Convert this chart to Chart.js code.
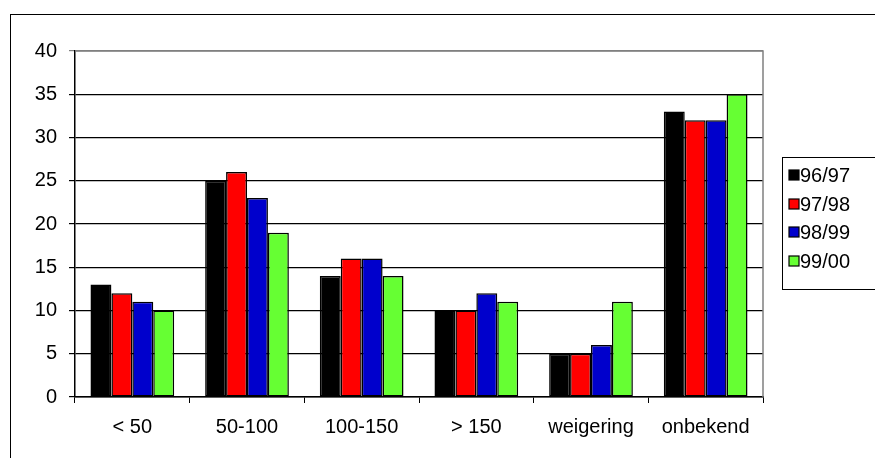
<!DOCTYPE html>
<html>
<head>
<meta charset="utf-8">
<script src="https://cdn.jsdelivr.net/npm/chart.js@4"></script>
<style>
  body { margin: 0; background: #fff; }
  #wrap { position: relative; width: 875px; height: 458px; }
</style>
</head>
<body>
<div id="wrap"><canvas id="canvas" width="875" height="458"></canvas></div>
<script>
const categories = ['< 50', '50-100', '100-150', '> 150', 'weigering', 'onbekend'];
const seriesNames = ['96/97', '97/98', '98/99', '99/00'];
const v9697 = [13, 25, 14, 10, 5, 33];
const v9798 = [12, 26, 16, 10, 5, 32];
const v9899 = [11, 23, 16, 12, 6, 32];
const v9900 = [10, 19, 14, 11, 11, 35];
const colors = ['#000000', '#ff0000', '#0000cc', '#66ff33'];

const FONT = "'Liberation Sans', Arial, sans-serif";

// outer frame, gray plot border and the boxed legend
const frame = {
  id: 'frame',
  beforeDraw(chart) {
    const c = chart.ctx;
    c.save();
    c.fillStyle = '#fff';
    c.fillRect(0, 0, chart.width, chart.height);
    c.strokeStyle = '#000';
    c.lineWidth = 1;
    c.strokeRect(10.5, 14.5, 900, 500);
    c.restore();
  },
  beforeDatasetsDraw(chart) {
    const a = chart.chartArea;
    const c = chart.ctx;
    c.save();
    c.strokeStyle = '#808080';
    c.lineWidth = 1.5;
    c.beginPath();
    c.moveTo(a.left, a.top);
    c.lineTo(a.right, a.top);
    c.lineTo(a.right, a.bottom);
    c.stroke();
    c.restore();
  },
  afterDraw(chart) {
    const c = chart.ctx;
    c.save();
    c.strokeStyle = '#000';
    c.lineWidth = 1;
    c.strokeRect(782.5, 157.5, 120, 132);
    c.font = '20px ' + FONT;
    c.textBaseline = 'middle';
    c.textAlign = 'left';
    const ys = [175, 204, 232, 261];
    chart.data.datasets.forEach((ds, i) => {
      c.fillStyle = ds.backgroundColor;
      c.fillRect(789, ys[i] - 5, 10, 10);
      c.strokeStyle = '#000';
      c.lineWidth = 1.2;
      c.strokeRect(789, ys[i] - 5, 10, 10);
      c.fillStyle = '#000';
      c.fillText(ds.label, 800, ys[i] + 1);
    });
    c.restore();
  }
};

const ctx = document.getElementById('canvas');
new Chart(ctx, {
  type: 'bar',
  data: {
    labels: categories,
    datasets: [v9697, v9798, v9899, v9900].map((d, i) => ({
      label: seriesNames[i],
      data: d,
      backgroundColor: colors[i],
      borderColor: '#000',
      borderWidth: 1.5,
      borderSkipped: false,
      categoryPercentage: 0.73,
      barPercentage: 1.0
    }))
  },
  options: {
    responsive: false,
    animation: false,
    devicePixelRatio: 1,
    layout: { padding: { left: 10, top: 51, right: 112, bottom: 10 } },
    plugins: { legend: { display: false }, tooltip: { enabled: false } },
    scales: {
      x: {
        offset: true,
        grid: { display: true, drawOnChartArea: false, offset: true, color: '#000', tickLength: 6, lineWidth: 1 },
        border: { color: '#000', width: 1.5 },
        ticks: { color: '#000', font: { family: FONT, size: 20 }, padding: 12, maxRotation: 0, autoSkip: false },
        afterFit(s) { s.height = 51; }
      },
      y: {
        min: 0,
        max: 40,
        ticks: { stepSize: 5, color: '#000', font: { family: FONT, size: 20 }, padding: 12 },
        grid: {
          color: c => (c.tick && c.tick.value === 40) ? '#808080' : '#000',
          lineWidth: 1.2,
          tickLength: 6
        },
        border: { color: '#000', width: 1.5 },
        afterFit(s) { s.width = 65; }
      }
    }
  },
  plugins: [frame]
});
</script>
</body>
</html>
